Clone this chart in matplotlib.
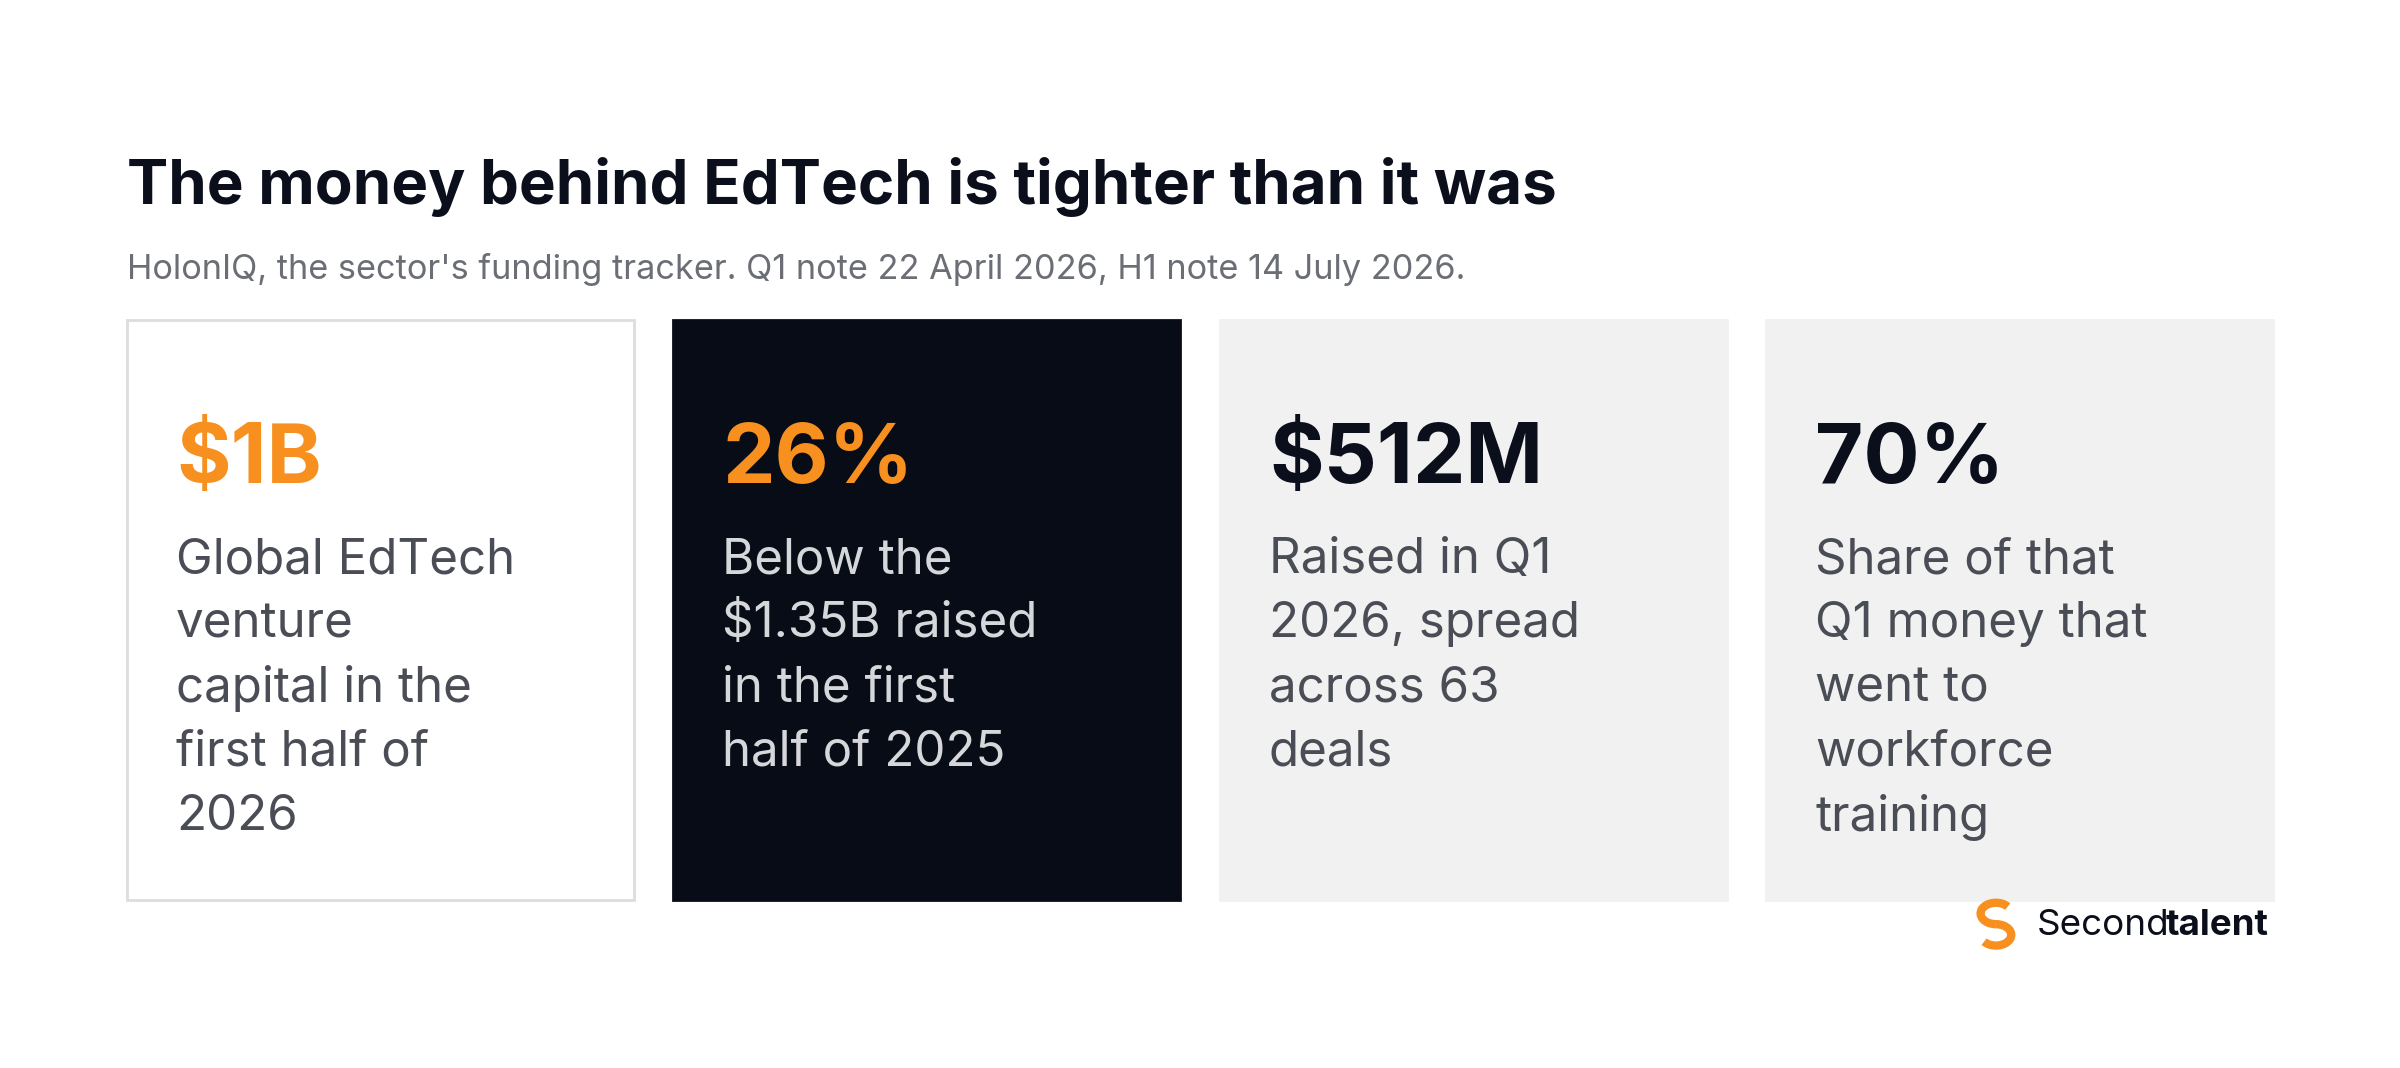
import matplotlib
matplotlib.use("Agg")
import matplotlib.pyplot as plt
from matplotlib.patches import Rectangle, Arc

title = "The money behind EdTech is tighter than it was"
subtitle = "HolonIQ, the sector's funding tracker. Q1 note 22 April 2026, H1 note 14 July 2026."
values = ["$1B", "26%", "$512M", "70%"]
descriptions = [
    ["Global EdTech", "venture", "capital in the", "first half of", "2026"],
    ["Below the", "$1.35B raised", "in the first", "half of 2025"],
    ["Raised in Q1", "2026, spread", "across 63", "deals"],
    ["Share of that", "Q1 money that", "went to", "workforce", "training"],
]
card_face = ["white", "#080c16", "#f0f1f0", "#f0f1f0"]
card_edge = ["#dddddd", "#080c16", "#f0f1f0", "#f0f1f0"]
value_color = ["#f7901e", "#f7901e", "#0b0f1c", "#0b0f1c"]
desc_color = ["#4a4d55", "#d6d7da", "#4a4d55", "#4a4d55"]

FONT = ["Inter", "DejaVu Sans"]
fig = plt.figure(figsize=(24, 10.68), dpi=100)
ax = fig.add_axes([0, 0, 1, 1])
ax.set_xlim(0, 1568)
ax.set_ylim(698, 0)
ax.axis("off")

ax.text(83, 122, title, fontsize=44.5, fontweight="bold", color="#0b0f1c", va="center", family=FONT)
ax.text(83, 176, subtitle, fontsize=24.7, color="#6b6e75", va="center", family=FONT)

x0s = [83, 440, 797, 1154]
w, top, h = 331, 209, 379
for i, x in enumerate(x0s):
    ax.add_patch(Rectangle((x, top), w, h, facecolor=card_face[i], edgecolor=card_edge[i], lw=2))
    ax.text(x + 32, 301, values[i], fontsize=60, fontweight="bold", color=value_color[i],
            va="center", family=FONT)
    for j, line in enumerate(descriptions[i]):
        ax.text(x + 32, 366 + 42 * j, line, fontsize=35.5, color=desc_color[i], va="center", family=FONT)

# logo
cx, cy = 1304, 604
ax.add_patch(Arc((cx, cy - 7), 20, 14, theta1=90, theta2=330, color="#f7901e", lw=6))
ax.add_patch(Arc((cx, cy + 7), 20, 14, theta1=270, theta2=150, color="#f7901e", lw=6))
ax.text(1331, 605, "Second", fontsize=26.5, color="#0b0f1c", va="center", family=FONT)
ax.text(1415, 605, "talent", fontsize=26.5, fontweight="bold", color="#0b0f1c", va="center", family=FONT)

fig.savefig("out.png", dpi=100, facecolor="white")
